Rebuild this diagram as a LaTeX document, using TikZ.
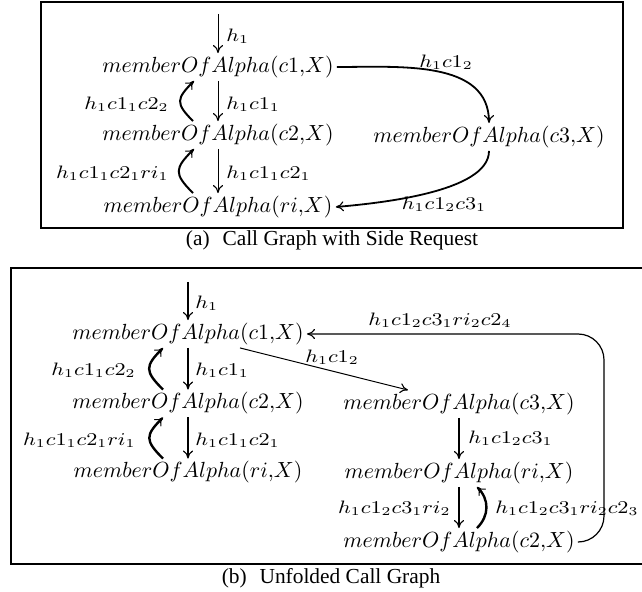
\documentclass[tikz,border=0pt]{standalone}
\usepackage{fontspec}
\newfontfamily\capfont{Liberation Serif}
\usepackage{graphicx}
\usetikzlibrary{arrows.meta,calc}
\newcommand\mylbl[1]{\scalebox{1.2}[1]{$#1$}}
\tikzset{
  mn/.style={inner xsep=1.5pt, inner ysep=1.3pt, font=\fontsize{10.95}{13}\selectfont},
  lab/.style={inner sep=0pt, font=\fontsize{9}{11}\selectfont},
  captxt/.style={inner sep=0pt, font=\capfont\fontsize{10.7}{12}\selectfont},
  arr/.style={-{Computer Modern Rightarrow[length=4pt,width=5pt,line width=0.55pt]}},
  boxframe/.style={line width=1.25pt},
}
\begin{document}
\begin{tikzpicture}[x=0.5pt,y=-0.5pt]
\useasboundingbox (0,0) rectangle (642,592);
% ---------------- panel (a)
\draw[boxframe] (41,2) rectangle (623,228);
\node[captxt] (capa) at (332,240) {(a)\hspace{0.6em}Call Graph with Side Request};
\node[mn] (a1) at (218,67) {$memberOfAlpha(c1{,}X)$};
\node[mn] (a2) at (218,135) {$memberOfAlpha(c2{,}X)$};
\node[mn] (a3) at (218,207) {$memberOfAlpha(ri{,}X)$};
\node[mn] (a4) at (489,137) {$memberOfAlpha(c3{,}X)$};
\coordinate (a0) at (218,14);
\draw[arr,line width=0.5pt] (a0) -- (a1.north);
\draw[arr,line width=0.5pt] (a1.south) -- (a2.north);
\draw[arr,line width=0.5pt] (a2.south) -- (a3.north);
\draw[arr,line width=1pt] ($(a2.north)+(-25,0)$) to[out=135,in=225,looseness=1.6] ($(a1.south)+(-24,0)$);
\draw[arr,line width=1pt] ($(a3.north)+(-25,0)$) to[out=135,in=225,looseness=1.6] ($(a2.south)+(-24,0)$);
\draw[arr,line width=0.9pt] (a1.east) to[out=0,in=90] (a4.north);
\draw[arr,line width=0.9pt] (a4.south) to[out=-90,in=5,looseness=0.65] (a3.east);
\node[lab,anchor=west] (la1) at (226,36) {\mylbl{h_1}};
\node[lab,anchor=west] (la2) at (226,104) {\mylbl{h_1c1_1}};
\node[lab,anchor=west] (la3) at (226,173) {\mylbl{h_1c1_1c2_1}};
\node[lab,anchor=east] (la4) at (169,104) {\mylbl{h_1c1_1c2_2}};
\node[lab,anchor=east] (la5) at (169,173) {\mylbl{h_1c1_1c2_1ri_1}};
\node[lab] (la6) at (446,62) {\mylbl{h_1c1_2}};
\node[lab] (la7) at (444,204) {\mylbl{h_1c1_2c3_1}};
% ---------------- panel (b)
\draw[boxframe] (11,268) rectangle (660,564);
\node[captxt] (capb) at (331,578) {(b)\hspace{0.6em}Unfolded Call Graph};
\node[mn] (b1) at (188,334) {$memberOfAlpha(c1{,}X)$};
\node[mn] (b2) at (188,403.5) {$memberOfAlpha(c2{,}X)$};
\node[mn] (b3) at (188,472.5) {$memberOfAlpha(ri{,}X)$};
\node[mn] (b4) at (459,404) {$memberOfAlpha(c3{,}X)$};
\node[mn] (b5) at (459,473) {$memberOfAlpha(ri{,}X)$};
\node[mn] (b6) at (459,542) {$memberOfAlpha(c2{,}X)$};
\coordinate (b0) at (188,282);
\draw[arr,line width=1.3pt] (b0) -- (b1.north);
\draw[arr,line width=1.3pt] (b1.south) -- (b2.north);
\draw[arr,line width=1.3pt] (b2.south) -- (b3.north);
\draw[arr,line width=1.2pt] ($(b2.north)+(-25,0)$) to[out=135,in=225,looseness=1.6] ($(b1.south)+(-25,0)$);
\draw[arr,line width=1.2pt] ($(b3.north)+(-25,0)$) to[out=135,in=225,looseness=1.6] ($(b2.south)+(-25,0)$);
\draw[arr,line width=0.5pt] ($(b1.south)+(52,0)$) -- ($(b4.north)+(-51,0)$);
\draw[arr,line width=0.9pt] (b4.south) -- (b5.north);
\draw[arr,line width=0.9pt] (b5.south) -- (b6.north);
\draw[arr,line width=1.2pt] ($(b6.north)+(18,0)$) to[out=45,in=-45,looseness=1.1] ($(b5.south)+(18,0)$);
\coordinate (rt) at (604,334);
\draw[arr,line width=0.6pt,rounded corners=13pt] (b6.east) -| (rt) -- (b1.east);
\node[lab,anchor=west] (lb1) at (195,303) {\mylbl{h_1}};
\node[lab,anchor=west] (lb2) at (195,370) {\mylbl{h_1c1_1}};
\node[lab,anchor=west] (lb3) at (195,440) {\mylbl{h_1c1_1c2_1}};
\node[lab,anchor=east] (lb4) at (136,370) {\mylbl{h_1c1_1c2_2}};
\node[lab,anchor=east] (lb5) at (136,440) {\mylbl{h_1c1_1c2_1ri_1}};
\node[lab] (lb6) at (332,357) {\mylbl{h_1c1_2}};
\node[lab] (lb7) at (440,320) {\mylbl{h_1c1_2c3_1ri_2c2_4}};
\node[lab,anchor=west] (lb8) at (468,438) {\mylbl{h_1c1_2c3_1}};
\node[lab,anchor=east] (lb9) at (451,508) {\mylbl{h_1c1_2c3_1ri_2}};
\node[lab,anchor=west] (lb10) at (495,508) {\mylbl{h_1c1_2c3_1ri_2c2_3}};
\end{tikzpicture}
\end{document}
